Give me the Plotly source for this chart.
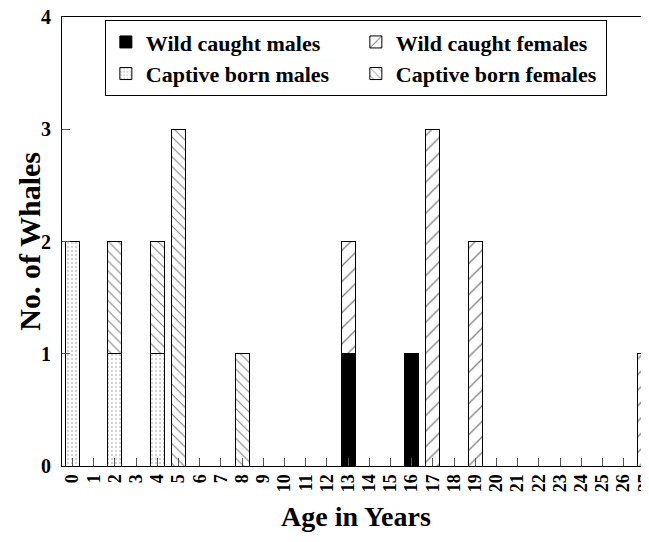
import plotly.graph_objs as go

# Ages (x categories) and counts per group
ages = list(range(28))
age_labels = [str(a) for a in ages]

wild_males_age = [13, 16]
wild_males_n = [1, 1]

wild_females_age = [13, 17, 19, 27]
wild_females_n = [1, 3, 2, 1]

captive_males_age = [0, 2, 4]
captive_males_n = [2, 1, 1]

captive_females_age = [2, 4, 5, 8]
captive_females_n = [1, 1, 3, 1]

FONT = "Liberation Serif"


def bar(x, y, name, pattern):
    return go.Bar(
        x=x,
        y=y,
        name=name,
        width=0.66,
        marker=dict(
            color="white",
            line=dict(color="black", width=1),
            pattern=pattern,
        ),
    )


fig = go.Figure()

fig.add_trace(
    go.Bar(
        x=wild_males_age,
        y=wild_males_n,
        name="Wild caught males",
        width=0.66,
        marker=dict(color="black", line=dict(color="black", width=1)),
    )
)
fig.add_trace(
    bar(
        wild_females_age,
        wild_females_n,
        "Wild caught females",
        dict(shape="/", fgcolor="black", bgcolor="white", size=11, solidity=0.12),
    )
)
fig.add_trace(
    bar(
        captive_males_age,
        captive_males_n,
        "Captive born males",
        dict(shape=".", fgcolor="#888888", bgcolor="white", size=4, solidity=0.2),
    )
)
fig.add_trace(
    bar(
        captive_females_age,
        captive_females_n,
        "Captive born females",
        dict(shape="\\", fgcolor="black", bgcolor="white", size=7, solidity=0.15),
    )
)

# page body adds an 8px offset, so the figure is sized/offset to compensate
fig.update_layout(
    width=641,
    height=526,
    barmode="stack",
    plot_bgcolor="white",
    paper_bgcolor="white",
    margin=dict(l=54, r=0, t=9, b=68),
    font=dict(family=FONT, color="black"),
    legend=dict(
        orientation="h",
        x=0.073,
        y=0.993,
        xanchor="left",
        yanchor="top",
        entrywidth=205,
        entrywidthmode="pixels",
        bgcolor="white",
        bordercolor="black",
        borderwidth=1,
        font=dict(family=FONT, size=22, color="black", weight="bold"),
        traceorder="normal",
        itemwidth=30,
    ),
)

fig.update_xaxes(
    range=[-0.5, 27.2],
    tickmode="array",
    tickvals=ages,
    ticktext=age_labels,
    tickangle=-90,
    ticks="inside",
    ticklen=8,
    tickcolor="#555555",
    showline=True,
    linecolor="black",
    linewidth=1,
    mirror=True,
    showgrid=False,
    zeroline=False,
    automargin=False,
    ticklabeloverflow="allow",
    tickfont=dict(family=FONT, size=18, weight="bold"),
)

fig.update_yaxes(
    range=[0, 4],
    tickvals=[0, 1, 2, 3, 4],
    ticks="inside",
    ticklen=8,
    tickcolor="#555555",
    showline=True,
    linecolor="black",
    linewidth=1,
    showgrid=False,
    zeroline=False,
    automargin=False,
    ticklabeloverflow="allow",
    ticklabelstandoff=6,
    tickfont=dict(family=FONT, size=20, weight="bold"),
)

# axis titles as annotations for exact placement
fig.add_annotation(
    text="No. of Whales",
    xref="paper",
    yref="paper",
    x=-0.056,
    y=0.5,
    xanchor="center",
    yanchor="middle",
    textangle=-90,
    showarrow=False,
    font=dict(family=FONT, size=30, weight="bold"),
)
fig.add_annotation(
    text="Age in Years",
    xref="paper",
    yref="paper",
    x=0.5,
    y=-0.1514,
    xanchor="center",
    yanchor="bottom",
    showarrow=False,
    font=dict(family=FONT, size=28, weight="bold"),
)

fig.write_html("out.html")
